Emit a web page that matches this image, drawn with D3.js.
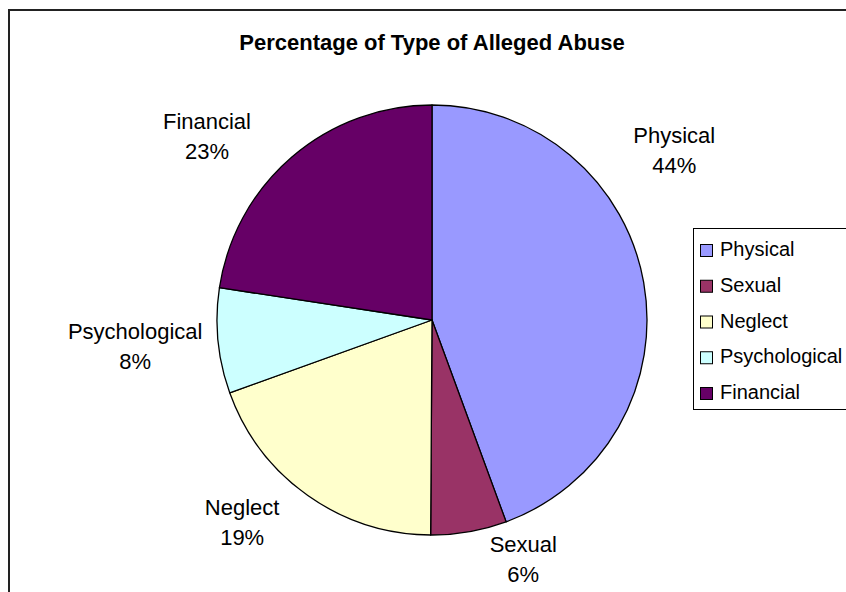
<!DOCTYPE html>
<html>
<head>
<meta charset="utf-8">
<script src="https://cdn.jsdelivr.net/npm/d3@7"></script>
<style>
  html, body { margin: 0; padding: 0; background: #fff; }
  svg { display: block; }
  text { font-family: "Liberation Sans", Arial, sans-serif; fill: #000; }
</style>
</head>
<body>
<svg id="chart" width="846" height="592"></svg>
<script>
// ---- data ----
const categories = ["Physical", "Sexual", "Neglect", "Psychological", "Financial"];
const values = [44.4, 5.7, 19.4, 7.9, 22.6];
const colors = ["#9999FF", "#993366", "#FFFFCC", "#CCFFFF", "#660066"];
const title = "Percentage of Type of Alleged Abuse";

// ---- layout ----
const W = 846, H = 592;
const cx = 432, cy = 320, R = 215;
// label placement (Excel "best fit" style), relative to slice mid-angle (deg) and radius factor
const labelAngleShift = { Physical: -25, Sexual: -11, Neglect: 8, Psychological: 0.6, Financial: -10 };
const labelRadiusFactor = { Physical: 1.377, Sexual: 1.19, Neglect: 1.288, Psychological: 1.386, Financial: 1.353 };

const svg = d3.select("#chart");

// frame
svg.append("rect")
  .attr("x", 9).attr("y", 10)
  .attr("width", W + 20).attr("height", H + 20)
  .attr("fill", "#fff").attr("stroke", "#222").attr("stroke-width", 2);

// title
svg.append("text")
  .attr("x", cx).attr("y", 50)
  .attr("text-anchor", "middle")
  .style("font-size", "22px").style("font-weight", "bold")
  .text(title);

const data = categories.map((c, i) => ({ name: c, value: values[i], color: colors[i] }));
const total = d3.sum(values);

const pie = d3.pie().sort(null).value(d => d.value);
const arcs = pie(data);
const arc = d3.arc().innerRadius(0).outerRadius(R);

const g = svg.append("g").attr("transform", `translate(${cx},${cy})`);
g.selectAll("path")
  .data(arcs)
  .join("path")
  .attr("d", arc)
  .attr("fill", d => d.data.color)
  .attr("stroke", "#000")
  .attr("stroke-width", 1.3)
  .attr("stroke-linejoin", "round");

// labels
const pct = d => Math.round(d.data.value / total * 100) + "%";
const lab = g.selectAll("text.lab")
  .data(arcs)
  .join("text")
  .attr("class", "lab")
  .attr("text-anchor", "middle")
  .style("font-size", "22px")
  .each(function(d) {
    const mid = (d.startAngle + d.endAngle) / 2 + labelAngleShift[d.data.name] * Math.PI / 180;
    const r = R * labelRadiusFactor[d.data.name];
    const x = Math.sin(mid) * r;
    const y = -Math.cos(mid) * r;
    const t = d3.select(this);
    t.append("tspan").attr("x", x).attr("y", y - 7).text(d.data.name);
    t.append("tspan").attr("x", x).attr("y", y + 23).text(pct(d));
  });

// legend
const lx = 693, ly = 228, lh = 181, rowH = 35.75, firstRow = 249;
const legend = svg.append("g");
legend.append("rect")
  .attr("x", lx + 0.5).attr("y", ly + 0.5)
  .attr("width", 200).attr("height", lh)
  .attr("fill", "#fff").attr("stroke", "#000").attr("stroke-width", 1);
const items = legend.selectAll("g.item")
  .data(data)
  .join("g")
  .attr("class", "item")
  .attr("transform", (d, i) => `translate(${lx}, ${firstRow + i * rowH})`);
items.append("rect")
  .attr("x", 7.5).attr("y", -4.5)
  .attr("width", 12).attr("height", 12)
  .attr("fill", d => d.color)
  .attr("stroke", "#000").attr("stroke-width", 1);
items.append("text")
  .attr("x", 27).attr("y", 7)
  .style("font-size", "20px")
  .text(d => d.name);
</script>
</body>
</html>
